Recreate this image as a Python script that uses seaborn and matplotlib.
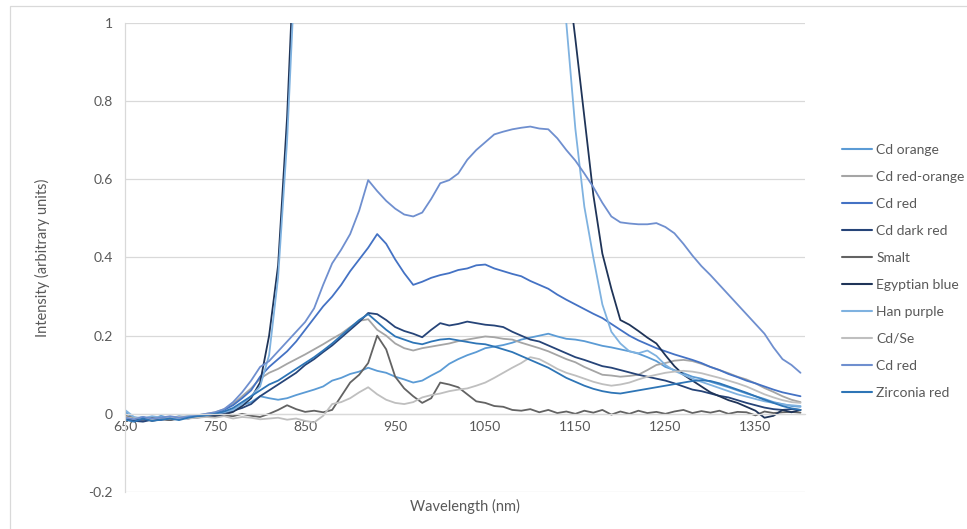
import numpy as np
import pandas as pd
import matplotlib
matplotlib.use("Agg")
import matplotlib.pyplot as plt
import seaborn as sns
from matplotlib.patches import Rectangle

# ---------------- data ----------------
wavelength = list(range(650, 1401, 10))

cd_orange = [
    0.005, -0.012, -0.008, -0.015, -0.005, -0.012, -0.006, -0.010, -0.004, -0.002,
    0.000, 0.004, 0.010, 0.022, 0.030, 0.045, 0.040, 0.036, 0.040, 0.048,
    0.055, 0.062, 0.070, 0.085, 0.092, 0.102, 0.108, 0.118, 0.110, 0.105,
    0.095, 0.088, 0.080, 0.085, 0.098, 0.110, 0.128, 0.140, 0.150, 0.158,
    0.168, 0.172, 0.176, 0.182, 0.190, 0.195, 0.200, 0.205, 0.198, 0.192,
    0.190, 0.186, 0.180, 0.174, 0.170, 0.165, 0.160, 0.154, 0.145, 0.135,
    0.120, 0.112, 0.104, 0.095, 0.090, 0.082, 0.075, 0.068, 0.060, 0.052,
    0.045, 0.038, 0.030, 0.025, 0.020, 0.018]

cd_red_orange = [
    -0.005, -0.010, -0.012, -0.008, -0.010, -0.014, -0.008, -0.006, -0.004, 0.000,
    0.004, 0.012, 0.025, 0.045, 0.065, 0.090, 0.105, 0.115, 0.128, 0.140,
    0.152, 0.165, 0.178, 0.192, 0.205, 0.222, 0.238, 0.242, 0.215, 0.200,
    0.180, 0.168, 0.162, 0.168, 0.172, 0.176, 0.180, 0.186, 0.190, 0.194,
    0.198, 0.196, 0.192, 0.190, 0.182, 0.175, 0.168, 0.160, 0.150, 0.140,
    0.132, 0.120, 0.110, 0.100, 0.098, 0.095, 0.097, 0.100, 0.112, 0.125,
    0.130, 0.136, 0.138, 0.135, 0.128, 0.120, 0.112, 0.104, 0.095, 0.088,
    0.078, 0.066, 0.056, 0.045, 0.036, 0.030]

cd_red = [
    -0.010, -0.015, -0.018, -0.012, -0.016, -0.010, -0.012, -0.008, -0.006, -0.002,
    0.002, 0.010, 0.022, 0.040, 0.060, 0.095, 0.120, 0.140, 0.160, 0.185,
    0.215, 0.245, 0.275, 0.300, 0.330, 0.365, 0.395, 0.425, 0.460, 0.435,
    0.395, 0.360, 0.330, 0.338, 0.348, 0.355, 0.360, 0.368, 0.372, 0.380,
    0.382, 0.372, 0.365, 0.358, 0.352, 0.340, 0.330, 0.320, 0.305, 0.292,
    0.280, 0.268, 0.256, 0.245, 0.230, 0.215, 0.200, 0.188, 0.178, 0.168,
    0.160, 0.152, 0.145, 0.138, 0.130, 0.120, 0.112, 0.102, 0.094, 0.085,
    0.078, 0.070, 0.062, 0.055, 0.050, 0.045]

cd_dark_red = [
    -0.012, -0.018, -0.020, -0.015, -0.012, -0.016, -0.010, -0.012, -0.008, -0.005,
    -0.002, 0.002, 0.008, 0.015, 0.025, 0.045, 0.060, 0.075, 0.090, 0.105,
    0.125, 0.140, 0.158, 0.175, 0.195, 0.215, 0.235, 0.258, 0.255, 0.240,
    0.222, 0.212, 0.205, 0.196, 0.215, 0.232, 0.226, 0.230, 0.236, 0.232,
    0.228, 0.226, 0.222, 0.210, 0.200, 0.190, 0.185, 0.175, 0.165, 0.155,
    0.145, 0.138, 0.130, 0.122, 0.118, 0.112, 0.106, 0.100, 0.095, 0.090,
    0.085, 0.078, 0.070, 0.062, 0.058, 0.052, 0.046, 0.042, 0.035, 0.028,
    0.022, 0.016, 0.012, 0.010, 0.012, 0.010]

smalt = [
    -0.005, -0.012, -0.015, -0.010, -0.014, -0.016, -0.012, -0.008, -0.010, -0.006,
    -0.008, -0.004, -0.006, 0.000, -0.005, -0.008, 0.000, 0.010, 0.022, 0.012,
    0.005, 0.008, 0.004, 0.010, 0.045, 0.080, 0.100, 0.130, 0.200, 0.165,
    0.095, 0.065, 0.045, 0.028, 0.040, 0.080, 0.075, 0.068, 0.050, 0.032,
    0.028, 0.020, 0.018, 0.010, 0.008, 0.012, 0.004, 0.010, 0.002, 0.006,
    0.000, 0.008, 0.003, 0.010, -0.002, 0.006, 0.000, 0.008, 0.002, 0.005,
    0.000, 0.006, 0.010, 0.002, 0.007, 0.003, 0.008, 0.000, 0.005, 0.004,
    -0.004, 0.006, 0.002, 0.004, 0.005, 0.003]

egyptian_blue = [
    -0.010, -0.015, -0.012, -0.018, -0.014, -0.010, -0.012, -0.010, -0.008, -0.006,
    -0.005, -0.002, 0.005, 0.020, 0.040, 0.080, 0.200, 0.380, 0.760, 1.300,
    1.600, 1.600, 1.600, 1.600, 1.600, 1.600, 1.600, 1.600, 1.600, 1.600,
    1.600, 1.600, 1.600, 1.600, 1.600, 1.600, 1.600, 1.600, 1.600, 1.600,
    1.600, 1.600, 1.600, 1.600, 1.600, 1.600, 1.600, 1.600, 1.600, 1.150,
    0.960, 0.760, 0.560, 0.410, 0.320, 0.240, 0.228, 0.212, 0.195, 0.180,
    0.150, 0.122, 0.100, 0.085, 0.070, 0.055, 0.045, 0.035, 0.028, 0.018,
    0.008, -0.010, -0.005, 0.010, 0.004, 0.010]

han_purple = [
    0.010, -0.008, -0.012, -0.006, -0.010, -0.008, -0.012, -0.006, -0.004, -0.002,
    0.000, 0.004, 0.010, 0.025, 0.045, 0.070, 0.150, 0.350, 0.700, 1.200,
    1.600, 1.600, 1.600, 1.600, 1.600, 1.600, 1.600, 1.600, 1.600, 1.600,
    1.600, 1.600, 1.600, 1.600, 1.600, 1.600, 1.600, 1.600, 1.600, 1.600,
    1.600, 1.600, 1.600, 1.600, 1.600, 1.600, 1.600, 1.600, 1.300, 1.000,
    0.730, 0.530, 0.400, 0.280, 0.210, 0.180, 0.160, 0.155, 0.162, 0.148,
    0.125, 0.110, 0.100, 0.090, 0.082, 0.074, 0.066, 0.058, 0.050, 0.044,
    0.038, 0.032, 0.028, 0.024, 0.022, 0.020]

cd_se = [
    -0.008, -0.012, -0.010, -0.014, -0.010, -0.012, -0.008, -0.012, -0.010, -0.008,
    -0.010, -0.006, -0.012, -0.008, -0.010, -0.014, -0.012, -0.010, -0.015, -0.012,
    -0.018, -0.022, -0.005, 0.025, 0.030, 0.040, 0.055, 0.068, 0.050, 0.036,
    0.028, 0.025, 0.030, 0.042, 0.048, 0.052, 0.058, 0.062, 0.065, 0.072,
    0.080, 0.092, 0.105, 0.118, 0.130, 0.145, 0.140, 0.128, 0.115, 0.105,
    0.098, 0.090, 0.082, 0.076, 0.072, 0.075, 0.080, 0.088, 0.095, 0.100,
    0.105, 0.108, 0.110, 0.108, 0.104, 0.098, 0.092, 0.085, 0.078, 0.070,
    0.060, 0.050, 0.042, 0.035, 0.030, 0.028]

cd_red_2 = [
    -0.010, -0.014, -0.008, -0.012, -0.010, -0.006, -0.010, -0.008, -0.004, 0.000,
    0.004, 0.012, 0.030, 0.055, 0.085, 0.120, 0.135, 0.160, 0.185, 0.210,
    0.235, 0.270, 0.330, 0.385, 0.420, 0.460, 0.520, 0.598, 0.570, 0.545,
    0.525, 0.510, 0.505, 0.515, 0.550, 0.590, 0.598, 0.615, 0.650, 0.675,
    0.695, 0.715, 0.722, 0.728, 0.732, 0.735, 0.730, 0.728, 0.705, 0.675,
    0.648, 0.615, 0.580, 0.540, 0.505, 0.490, 0.487, 0.485, 0.485, 0.488,
    0.478, 0.462, 0.435, 0.405, 0.378, 0.355, 0.330, 0.305, 0.280, 0.255,
    0.230, 0.205, 0.170, 0.140, 0.125, 0.105]

zirconia_red = [
    -0.015, -0.020, -0.012, -0.018, -0.015, -0.012, -0.016, -0.010, -0.006, -0.004,
    0.000, 0.006, 0.015, 0.030, 0.045, 0.060, 0.075, 0.085, 0.100, 0.115,
    0.130, 0.145, 0.162, 0.180, 0.200, 0.220, 0.240, 0.255, 0.235, 0.215,
    0.198, 0.190, 0.182, 0.178, 0.185, 0.190, 0.192, 0.188, 0.184, 0.180,
    0.178, 0.172, 0.165, 0.158, 0.148, 0.138, 0.128, 0.118, 0.105, 0.092,
    0.082, 0.072, 0.064, 0.058, 0.054, 0.052, 0.056, 0.060, 0.064, 0.068,
    0.072, 0.076, 0.080, 0.084, 0.086, 0.084, 0.078, 0.070, 0.062, 0.054,
    0.045, 0.036, 0.028, 0.020, 0.014, 0.010]

series_names = ["Cd orange", "Cd red-orange", "Cd red", "Cd dark red", "Smalt",
                "Egyptian blue", "Han purple", "Cd/Se", "Cd red ", "Zirconia red"]
series_values = [cd_orange, cd_red_orange, cd_red, cd_dark_red, smalt,
                 egyptian_blue, han_purple, cd_se, cd_red_2, zirconia_red]
colors = ["#5b9bd5", "#a5a5a5", "#4472c4", "#264478", "#636363",
          "#1f3458", "#7fb2e0", "#bfbfbf", "#6f8fcf", "#2e75b6"]

xticks = [650, 750, 850, 950, 1050, 1150, 1250, 1350]
yticks = [-0.2, 0, 0.2, 0.4, 0.6, 0.8, 1]
ytick_labels = ["-0.2", "0", "0.2", "0.4", "0.6", "0.8", "1"]

rows = []
for name, vals in zip(series_names, series_values):
    for w, v in zip(wavelength, vals):
        rows.append({"Wavelength": w, "Intensity": v, "Series": name})
df = pd.DataFrame(rows)

# ---------------- style ----------------
sns.set_style("white")
plt.rcParams["font.family"] = ["Lato", "DejaVu Sans"]
text_color = "#595959"
grid_color = "#d9d9d9"

fig = plt.figure(figsize=(9.67, 5.29), dpi=100)
ax = fig.add_axes([125 / 967, 1 - 492 / 529, 680 / 967, 469 / 529])

sns.lineplot(data=df, x="Wavelength", y="Intensity", hue="Series",
             hue_order=series_names, palette=colors, sort=False,
             linewidth=1.3, ax=ax, legend=False)

ax.set_xlim(650, 1405)
ax.set_ylim(-0.2, 1)
ax.set_xticks(xticks)
ax.set_xticklabels([str(t) for t in xticks])
ax.set_yticks(yticks)
ax.set_yticklabels(ytick_labels)
ax.set_xlabel("")
ax.set_ylabel("")

ax.grid(axis="y", color=grid_color, linewidth=0.9)
ax.grid(axis="x", visible=False)
ax.set_axisbelow(True)

for s in ["top", "right"]:
    ax.spines[s].set_visible(False)
ax.spines["left"].set_color(grid_color)
ax.spines["left"].set_linewidth(0.9)
ax.spines["bottom"].set_position(("data", 0))
ax.spines["bottom"].set_color(grid_color)
ax.spines["bottom"].set_linewidth(0.9)

ax.tick_params(axis="both", length=0, labelsize=10, labelcolor=text_color)
ax.tick_params(axis="x", pad=5)
ax.tick_params(axis="y", pad=9)

ax.text(0.5, -0.03, "Wavelength (nm)", transform=ax.transAxes,
        ha="center", va="center", fontsize=10.5, color=text_color)
fig.text(42 / 967, 1 - 258 / 529, "Intensity (arbitrary units)", rotation=90,
         ha="center", va="center", fontsize=10.5, color=text_color)

# legend
handles = [plt.Line2D([], [], color=c, linewidth=1.5) for c in colors]
fig.legend(handles, series_names, loc="upper left",
           bbox_to_anchor=(836 / 967, 1 - 138 / 529), frameon=False,
           fontsize=10, labelcolor=text_color, handlelength=2.2,
           handletextpad=0.3, labelspacing=1.08, borderaxespad=0)

# chart border
fig.patches.append(Rectangle((10 / 967, -0.05), 2.0, 1 - 6 / 529 + 0.05,
                             transform=fig.transFigure, fill=False,
                             edgecolor=grid_color, linewidth=0.9))

fig.savefig("out.png", dpi=100)
